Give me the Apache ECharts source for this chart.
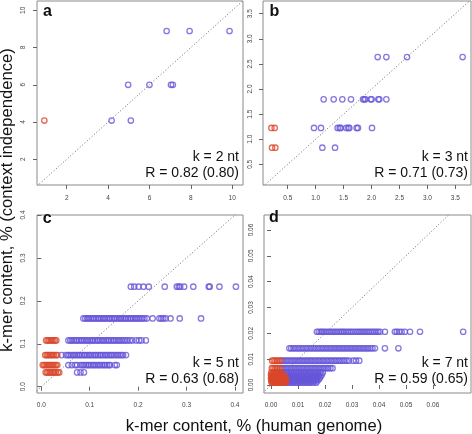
<!DOCTYPE html>
<html><head><meta charset="utf-8">
<script src="https://cdn.jsdelivr.net/npm/echarts@6/dist/echarts.min.js"></script>
<style>html,body{margin:0;padding:0;background:#fff}#c{width:472px;height:434px}</style>
</head><body><div id="c"></div>
<script>
// ---- Panel a (k = 2 nt) ----
const aBlueX = [4.17, 5.10, 4.97, 6.00, 7.04, 7.13, 6.83, 7.94, 9.87];
const aBlueY = [4.08, 4.08, 6.00, 6.00, 6.00, 6.00, 8.89, 8.89, 8.89];
const aRedX = [0.92];
const aRedY = [4.08];
const aTicks = [2, 4, 6, 8, 10];

// ---- Panel b (k = 3 nt) ----
const bBlueY = [2.637, 1.794, 1.224, 0.831];
const bBlueX = [
  [2.11, 2.265, 2.635, 3.63],
  [1.143, 1.322, 1.477, 1.632, 1.847, 1.871, 1.889, 1.984, 2.002, 2.121, 2.139, 2.265],
  [0.970, 1.095, 1.393, 1.430, 1.447, 1.549, 1.585, 1.602, 1.733, 1.757, 2.008],
  [1.119, 1.346]
];
const bRedY = [1.224, 0.831];
const bRedX = [[0.207, 0.266], [0.219, 0.278]];
const bTicks = [0.5, 1.0, 1.5, 2.0, 2.5, 3.0, 3.5];

// ---- Panel c (k = 5 nt) ----
const cBlueY = [0.233, 0.159, 0.1078, 0.0736, 0.0504, 0.0333];
const cBlueX = [
  [0.185, 0.192, 0.201, 0.211, 0.222, 0.255, 0.280, 0.284, 0.287, 0.295, 0.314, 0.346, 0.348, 0.368, 0.402],
  [0.087, 0.091, 0.095, 0.098, 0.102, 0.106, 0.109, 0.113, 0.117, 0.120, 0.124, 0.128, 0.131, 0.135, 0.139, 0.142,
   0.146, 0.150, 0.153, 0.157, 0.161, 0.164, 0.168, 0.172, 0.175, 0.179, 0.183, 0.186, 0.190, 0.194, 0.197, 0.201,
   0.205, 0.209, 0.213, 0.218, 0.230, 0.244, 0.248, 0.252, 0.257, 0.267, 0.286, 0.330],
  [0.056, 0.060, 0.063, 0.067, 0.071, 0.074, 0.078, 0.082, 0.085, 0.089, 0.093, 0.096, 0.100, 0.104, 0.107, 0.111,
   0.115, 0.118, 0.122, 0.126, 0.129, 0.133, 0.137, 0.140, 0.144, 0.148, 0.151, 0.155, 0.159, 0.162, 0.166, 0.170,
   0.174, 0.178, 0.183, 0.188, 0.196, 0.202, 0.207, 0.216],
  [0.042, 0.051, 0.055, 0.058, 0.062, 0.066, 0.069, 0.073, 0.077, 0.080, 0.084, 0.088, 0.091, 0.095, 0.099, 0.102,
   0.106, 0.110, 0.113, 0.117, 0.121, 0.124, 0.128, 0.132, 0.135, 0.139, 0.143, 0.146, 0.150, 0.154, 0.158, 0.162,
   0.166, 0.169, 0.175],
  [0.056, 0.063, 0.070, 0.074, 0.081, 0.085, 0.088, 0.092, 0.096, 0.099, 0.103, 0.107, 0.110, 0.114, 0.118, 0.121,
   0.125, 0.129, 0.132, 0.136, 0.140, 0.142, 0.152, 0.156],
  [0.074, 0.081, 0.088]
];
const cRedY = [0.1078, 0.0736, 0.0504, 0.0333];
const cRedX = [
  [0.010, 0.013, 0.016, 0.019, 0.022, 0.025, 0.028, 0.031],
  [0.008, 0.011, 0.014, 0.017, 0.020, 0.023, 0.026, 0.030, 0.033],
  [0.003, 0.006, 0.009, 0.012, 0.015, 0.018, 0.021, 0.024, 0.027, 0.030, 0.033],
  [0.009, 0.012, 0.015, 0.018, 0.021, 0.024, 0.027, 0.030, 0.034, 0.037]
];
const cTicks = [0.0, 0.1, 0.2, 0.3, 0.4];

// ---- Panel d (k = 7 nt) ----
const dBlueY = [0.0206, 0.0142, 0.0094, 0.0065, 0.0048, 0.0040, 0.0033, 0.0026, 0.0020, 0.0014, 0.0009];
const dBlueX = [
  [0.0170, 0.0177, 0.0184, 0.0189, 0.0195, 0.0202, 0.0209, 0.0216, 0.0223, 0.0230, 0.0237, 0.0244, 0.0251, 0.0258,
   0.0264, 0.0270, 0.0277, 0.0284, 0.0291, 0.0298, 0.0305, 0.0313, 0.0320, 0.0327, 0.0334, 0.0341, 0.0348, 0.0355,
   0.0362, 0.0369, 0.0376, 0.0383, 0.0390, 0.0397, 0.0404, 0.0422, 0.0459, 0.0466, 0.0474, 0.0484, 0.0496, 0.0515,
   0.0552, 0.0712],
  [0.0068, 0.0075, 0.0083, 0.0090, 0.0098, 0.0105, 0.0113, 0.0120, 0.0128, 0.0135, 0.0143, 0.0150, 0.0158, 0.0165,
   0.0173, 0.0180, 0.0188, 0.0195, 0.0203, 0.0210, 0.0218, 0.0225, 0.0233, 0.0240, 0.0248, 0.0255, 0.0263, 0.0270,
   0.0278, 0.0285, 0.0293, 0.0300, 0.0308, 0.0315, 0.0323, 0.0330, 0.0338, 0.0345, 0.0353, 0.0360, 0.0368, 0.0376,
   0.0385, 0.0422, 0.0472],
  [0.0040, 0.0047, 0.0055, 0.0062, 0.0070, 0.0077, 0.0085, 0.0092, 0.0100, 0.0107, 0.0115, 0.0122, 0.0130, 0.0137,
   0.0145, 0.0152, 0.0160, 0.0167, 0.0175, 0.0182, 0.0190, 0.0197, 0.0205, 0.0212, 0.0220, 0.0227, 0.0235, 0.0242,
   0.0250, 0.0257, 0.0265, 0.0272, 0.0280, 0.0289, 0.0305, 0.0315, 0.0327],
  [0.0040, 0.0047, 0.0055, 0.0062, 0.0070, 0.0077, 0.0085, 0.0092, 0.0100, 0.0107, 0.0115, 0.0122, 0.0130, 0.0137,
   0.0145, 0.0152, 0.0160, 0.0167, 0.0175, 0.0182, 0.0190, 0.0197, 0.0205, 0.0212, 0.0220, 0.0228],
  [0.0040, 0.0048, 0.0057, 0.0066, 0.0075, 0.0084, 0.0093, 0.0102, 0.0111, 0.0120, 0.0129, 0.0138, 0.0147, 0.0156,
   0.0165, 0.0174, 0.0183, 0.0192],
  [0.0041, 0.0050, 0.0059, 0.0068, 0.0077, 0.0086, 0.0095, 0.0104, 0.0113, 0.0122, 0.0131, 0.0140, 0.0149, 0.0158,
   0.0167, 0.0176, 0.0188],
  [0.0040, 0.0049, 0.0058, 0.0067, 0.0076, 0.0085, 0.0094, 0.0103, 0.0112, 0.0121, 0.0130, 0.0139, 0.0148, 0.0157,
   0.0166, 0.0175, 0.0184],
  [0.0042, 0.0051, 0.0060, 0.0069, 0.0078, 0.0087, 0.0096, 0.0105, 0.0114, 0.0123, 0.0132, 0.0141, 0.0150, 0.0159,
   0.0168, 0.0180],
  [0.0041, 0.0050, 0.0059, 0.0068, 0.0077, 0.0086, 0.0095, 0.0104, 0.0113, 0.0122, 0.0131, 0.0140, 0.0149, 0.0158,
   0.0167, 0.0176],
  [0.0043, 0.0052, 0.0061, 0.0070, 0.0079, 0.0088, 0.0097, 0.0106, 0.0115, 0.0124, 0.0133, 0.0142, 0.0151, 0.0160,
   0.0170],
  [0.0045, 0.0054, 0.0063, 0.0072, 0.0081, 0.0090, 0.0099, 0.0108, 0.0117, 0.0126, 0.0135, 0.0144, 0.0155, 0.0167]
];
const dRedY = [0.0094, 0.0065, 0.0048, 0.0040, 0.0033, 0.0026, 0.0020, 0.0014, 0.0009];
const dRedX = [
  [0.0004, 0.0010, 0.0016, 0.0022, 0.0028, 0.0034],
  [0.0003, 0.0009, 0.0015, 0.0021, 0.0027, 0.0034],
  [0.0001, 0.0007, 0.0013, 0.0019, 0.0025, 0.0031, 0.0037],
  [0.0000, 0.0006, 0.0012, 0.0018, 0.0024, 0.0030, 0.0037, 0.0043],
  [0.0001, 0.0007, 0.0013, 0.0019, 0.0025, 0.0031, 0.0037, 0.0044, 0.0050],
  [0.0000, 0.0006, 0.0012, 0.0018, 0.0024, 0.0030, 0.0036, 0.0042, 0.0048, 0.0054],
  [0.0002, 0.0008, 0.0014, 0.0020, 0.0026, 0.0032, 0.0038, 0.0044, 0.0050, 0.0056],
  [0.0001, 0.0007, 0.0013, 0.0019, 0.0025, 0.0031, 0.0037, 0.0043, 0.0049, 0.0055],
  [0.0003, 0.0009, 0.0015, 0.0021, 0.0027, 0.0033, 0.0039, 0.0045, 0.0052]
];
const dTicks = [0.00, 0.01, 0.02, 0.03, 0.04, 0.05, 0.06];

// ---- texts ----
const panelLetters = ['a', 'b', 'c', 'd'];
const kLabels = ['k = 2 nt', 'k = 3 nt', 'k = 5 nt', 'k = 7 nt'];
const rLabels = ['R = 0.82 (0.80)', 'R = 0.71 (0.73)', 'R = 0.63 (0.68)', 'R = 0.59 (0.65)'];
const xTitle = 'k-mer content, % (human genome)';
const yTitle = 'k-mer content, % (context independence)';

const BLUE = '#6656d8', RED = '#d9472a';
const FONT = '"Liberation Sans", Arial, Helvetica, sans-serif';

function pairs(xs, ys) { return xs.map((x, i) => [x, ys[i]]); }
function rows(ys, xss) { const p = []; ys.forEach((y, i) => xss[i].forEach(x => p.push([x, y]))); return p; }

const panels = [
  { grid: {left: 37, top: 1, width: 206, height: 184}, xr: [0.565, 10.52], yr: [0.62, 10.50], ticks: aTicks,
    fmt: v => String(Math.round(v)), blue: pairs(aBlueX, aBlueY), red: pairs(aRedX, aRedY), xm: 10, ym: 10 },
  { grid: {left: 263, top: 1, width: 208, height: 184}, xr: [0.057, 3.78], yr: [0.088, 3.753], ticks: bTicks,
    fmt: v => v.toFixed(1), blue: rows(bBlueY, bBlueX), red: rows(bRedY, bRedX), xm: 10, ym: 9 },
  { grid: {left: 37, top: 215, width: 206, height: 178}, xr: [-0.0089, 0.4167], yr: [-0.0147, 0.4], ticks: cTicks,
    fmt: v => v.toFixed(1), blue: rows(cBlueY, cBlueX), red: rows(cRedY, cRedX), xm: 9, ym: 10 },
  { grid: {left: 264, top: 215, width: 207, height: 178}, xr: [-0.0026, 0.0741], yr: [-0.0031, 0.0658], ticks: dTicks,
    fmt: v => v.toFixed(2), blue: rows(dBlueY, dBlueX), red: rows(dRedY, dRedX), xm: 9, ym: 9 }
];

const grid = [], xAxis = [], yAxis = [], series = [], graphic = [];
panels.forEach((p, i) => {
  grid.push(Object.assign({show: true, borderColor: '#8a8a8a', borderWidth: 1, backgroundColor: 'transparent'}, p.grid));
  const ax = (r, rot, margin) => ({
    gridIndex: i, type: 'value', min: r[0], max: r[1], scale: true,
    axisLine: {show: false}, splitLine: {show: false},
    axisTick: {show: true, length: 4, customValues: p.ticks, lineStyle: {color: '#666', width: 1}},
    axisLabel: {customValues: p.ticks, formatter: p.fmt, fontSize: 6.5, color: '#444', fontFamily: FONT,
      margin: margin, rotate: rot}
  });
  xAxis.push(ax(p.xr, 0, p.xm));
  yAxis.push(ax(p.yr, 90, p.ym));
  const lo = Math.min(p.xr[0], p.yr[0]), hi = Math.max(p.xr[1], p.yr[1]);
  series.push({type: 'line', xAxisIndex: i, yAxisIndex: i, data: [[lo, lo], [hi, hi]], symbol: 'none', silent: true,
    clip: true, lineStyle: {color: '#666', width: 1, type: [1, 2.2]}, z: 1});
  const sc = (data, col) => ({type: 'scatter', xAxisIndex: i, yAxisIndex: i, data: data, symbol: 'circle',
    symbolSize: 5.4, silent: true, itemStyle: {color: 'rgba(0,0,0,0)', borderColor: col, borderWidth: 1.3}, z: 2});
  series.push(sc(p.blue, BLUE));
  series.push(sc(p.red, RED));
  graphic.push({type: 'text', x: [43, 269.5, 42.7, 269][i], y: [11.2, 11.2, 218.4, 217.8][i],
    style: {text: panelLetters[i], font: 'bold 16px ' + FONT, fill: '#111', textVerticalAlign: 'middle'}});
  const kY = i < 2 ? 156.8 : 363.2, rY = i < 2 ? 173.4 : 379.6;
  const rx = i % 2 === 0 ? 239 : 468;
  graphic.push({type: 'text', x: rx, y: kY, style: {text: kLabels[i], font: '14px ' + FONT, fill: '#111',
    textAlign: 'right', textVerticalAlign: 'middle'}});
  graphic.push({type: 'text', x: rx, y: rY, style: {text: rLabels[i], font: '14px ' + FONT, fill: '#111',
    textAlign: 'right', textVerticalAlign: 'middle'}});
});
graphic.push({type: 'text', x: 254, y: 426, style: {text: xTitle, font: '16.6px ' + FONT, fill: '#111',
  textAlign: 'center', textVerticalAlign: 'middle'}});
graphic.push({type: 'text', x: 7.5, y: 200, rotation: Math.PI / 2, style: {text: yTitle, font: '16.6px ' + FONT,
  fill: '#111', textAlign: 'center', textVerticalAlign: 'middle'}});

const chart = echarts.init(document.getElementById('c'), null, {renderer: 'canvas'});
chart.setOption({animation: false, backgroundColor: '#fff', grid, xAxis, yAxis, series, graphic});
</script></body></html>
